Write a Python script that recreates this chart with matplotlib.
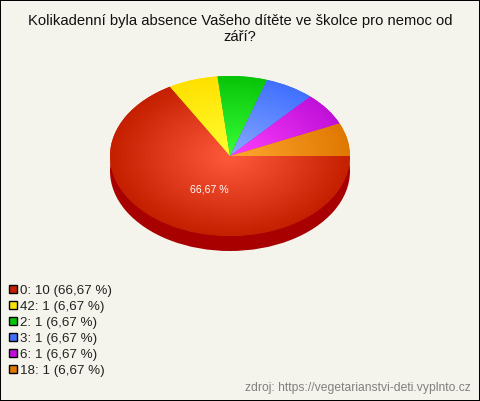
import numpy as np
import matplotlib
matplotlib.use("Agg")
import matplotlib.pyplot as plt
from matplotlib.colors import LinearSegmentedColormap
from matplotlib.patches import Patch, Rectangle

categories = ["0", "42", "2", "3", "6", "18"]
counts = [10, 1, 1, 1, 1, 1]
percent_labels = ["66,67 %", "6,67 %", "6,67 %", "6,67 %", "6,67 %", "6,67 %"]
edge_colors = ["#C42000", "#FFE000", "#08C408", "#4070FF", "#C010D8", "#E07800"]
center_colors = ["#FF5A3C", "#FFFF30", "#38FF38", "#88A8FF", "#FF40FF", "#FFA830"]
title = "Kolikadenní byla absence Vašeho dítěte ve školce pro nemoc od\nzáří?"
source = "zdroj: https://vegetarianstvi-deti.vyplnto.cz"
BG = "#F5F4EC"

plt.rcParams["font.family"] = ["Liberation Sans", "DejaVu Sans"]
W, H = 480, 401
fig = plt.figure(figsize=(W / 100, H / 100), dpi=100, facecolor=BG)
ax = fig.add_axes([0, 0, 1, 1])
ax.set_facecolor(BG)

depth = 15 / 80
# side wall of the pie
ax.pie(counts, startangle=0, counterclock=False, center=(0, -depth),
       colors=["#A80000"] * len(counts), wedgeprops={"linewidth": 0})

# top face
wedges, _ = ax.pie(counts, startangle=0, counterclock=False,
                   colors=edge_colors, wedgeprops={"linewidth": 0})

xs = np.linspace(-1.02, 1.02, 600)
ys = np.linspace(-1.02, 1.02, 600)
gx, gy = np.meshgrid(xs, ys)
rad = np.clip(np.hypot(gx, gy), 0, 1)
for w, c0, c1 in zip(wedges, center_colors, edge_colors):
    cmap = LinearSegmentedColormap.from_list("g", [c0, c1])
    im = ax.imshow(rad, cmap=cmap, vmin=0, vmax=1, origin="lower",
                   extent=(-1.02, 1.02, -1.02, 1.02), aspect="auto",
                   interpolation="bilinear", zorder=2)
    im.set_clip_path(w)

ax.set_aspect("auto")
ax.set_xlim(-230 / 120, (W - 230) / 120)
ax.set_ylim(-(H - 156) / 80, 156 / 80)
ax.axis("off")

ax.text(-21 / 120, -33 / 80, percent_labels[0], color="white", fontsize=7.6,
        ha="center", va="center", zorder=5)

fig.text(240 / W, 1 - 29 / H, title, ha="center", va="center", fontsize=10.6,
         color="#111111", linespacing=1.13)
fig.text(471 / W, 1 - 388 / H, source, ha="right", va="center", fontsize=8.7,
         color="#808080")

handles = [Patch(facecolor=c, edgecolor="black", linewidth=1) for c in edge_colors]
labels = [f"{c}: {n} ({p})" for c, n, p in zip(categories, counts, percent_labels)]
fig.legend(handles, labels, loc="upper left", bbox_to_anchor=(9 / W, 1 - 285 / H),
           bbox_transform=fig.transFigure, frameon=False, fontsize=9.65,
           handlelength=0.58, handleheight=0.58, handletextpad=0.22,
           labelspacing=0.295, borderpad=0, borderaxespad=0, labelcolor="#222222")

fig.add_artist(Rectangle((0, 0), 1, 1, transform=fig.transFigure, fill=False,
                         edgecolor="black", linewidth=1.44))
fig.savefig("out.png", dpi=100, facecolor=BG)
